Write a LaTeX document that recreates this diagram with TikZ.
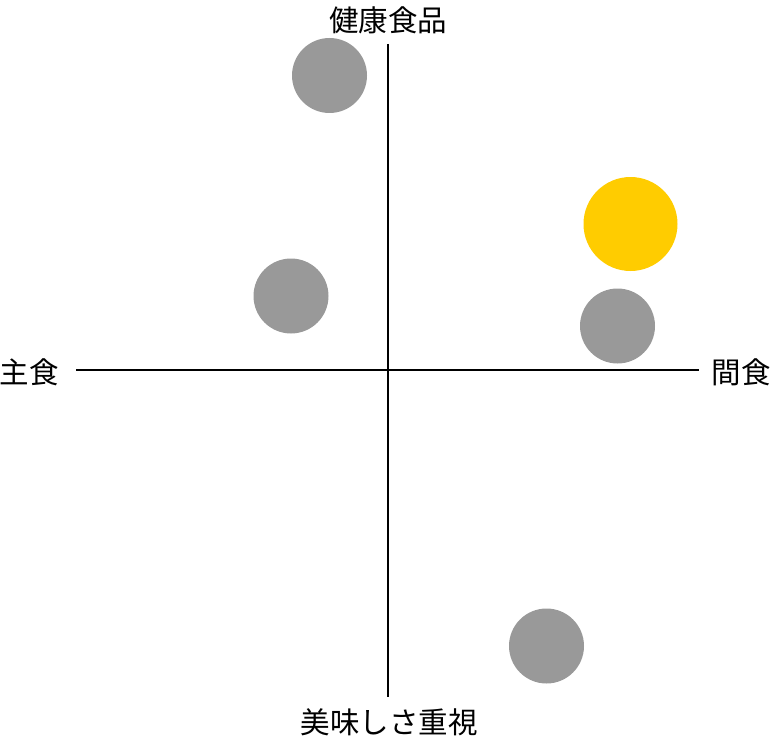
\documentclass[tikz,border=0pt]{standalone}
\usepackage{fontspec}
\newfontfamily\jpfont{Noto Sans CJK JP}
\usetikzlibrary{positioning}
\definecolor{dotgray}{HTML}{999999}
\definecolor{dotyellow}{HTML}{FFCC00}
\tikzset{
  dot/.style={circle, fill=dotgray, inner sep=0pt, minimum size=75pt},
  axislabel/.style={font=\jpfont\fontsize{29.5}{31}\selectfont, inner sep=0pt}
}
\begin{document}
\begin{tikzpicture}[x=1pt,y=-1pt]
  \useasboundingbox (0,0) rectangle (771,741);
  % Achsen
  \coordinate (top) at (388,44);
  \coordinate (bottom) at (388,697);
  \coordinate (left) at (76,370);
  \coordinate (right) at (699,370);
  \draw[line width=1.8pt] (top) -- (bottom);
  \draw[line width=1.8pt] (left) -- (right);
  \node[axislabel] (health) at (388,20) {健康食品};
  \node[axislabel] (staple) at (29,372) {主食};
  \node[axislabel] (snack) at (741,372) {間食};
  \node[axislabel] (taste) at (389,722) {美味しさ重視};
  % Positionen
  \node[dot] (a) at (329.5,75.5) {};
  \node[dot] (b) at (291,296) {};
  \node[dot] (c) at (617.5,326) {};
  \node[dot] (d) at (546.5,646) {};
  \node[dot, fill=dotyellow, minimum size=94pt] (e) at (630.5,224) {};
\end{tikzpicture}
\end{document}
